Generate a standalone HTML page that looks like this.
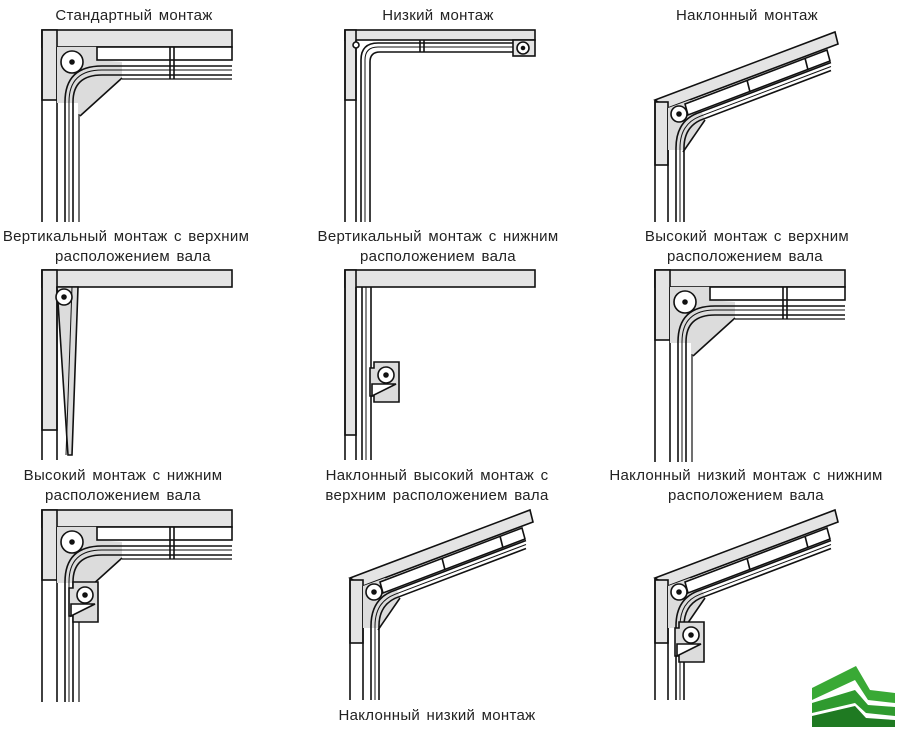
<!DOCTYPE html>
<html><head><meta charset="utf-8"><style>
html,body{margin:0;padding:0;background:#fff;}
svg{display:block;}
text{font-family:"Liberation Sans",sans-serif;font-size:15px;letter-spacing:0.3px;word-spacing:2px;fill:#222;text-anchor:middle;}
</style></head><body>
<svg width="900" height="730" viewBox="0 0 900 730" xmlns="http://www.w3.org/2000/svg">
<defs>
<g id="std" stroke="#111" stroke-width="1.6" fill="none">
  <rect x="0" y="0" width="190" height="17" fill="#e4e4e4"/>
  <rect x="0" y="0" width="15" height="70" fill="#e4e4e4"/>
  <line x1="0" y1="0" x2="0" y2="192"/><line x1="15" y1="17" x2="15" y2="192"/>
  <line x1="0" y1="70" x2="15" y2="70" stroke-width="1"/>
  <polygon points="15,17 55,17 55,30 80,32 80,48 40,84 36,84 36,73 15,73" fill="#dcdcdc" stroke="none"/>
  <line x1="80" y1="48" x2="38" y2="86"/>
  <rect x="55" y="17" width="135" height="13" fill="#fff"/>
  <line x1="128" y1="17" x2="128" y2="49"/><line x1="132" y1="17" x2="132" y2="49"/>
  <path d="M23,192 V72 Q23,36 60,36 H190"/>
  <path d="M27,192 V72 Q27,40 60,40 H190" stroke-width="1"/>
  <path d="M31,192 V72 Q31,45 60,45 H190"/>
  <path d="M37,192 V84 M80,49 H190" stroke-width="1.2"/>
  <circle cx="30" cy="32" r="11" fill="#fff"/><circle cx="30" cy="32" r="2" fill="#111"/>
</g>
<g id="inc" stroke="#111" stroke-width="1.6" fill="none">
  <polygon points="0,0 180,-68 183,-56 13,8" fill="#e4e4e4"/>
  <rect x="0" y="2" width="13" height="63" fill="#e4e4e4"/>
  <line x1="0" y1="0" x2="0" y2="122"/><line x1="13" y1="8" x2="13" y2="122"/>
  <line x1="0" y1="65" x2="13" y2="65" stroke-width="1"/>
  <polygon points="13,8 35,0 48,14 50,20 30,50 22,50 13,50" fill="#dcdcdc" stroke="none"/>
  <line x1="50" y1="20" x2="28" y2="52"/>
  <polygon points="30,4 172,-50 175,-39 33,15" fill="#fff"/>
  <line x1="92" y1="-20" x2="95" y2="-8"/><line x1="150" y1="-42" x2="153" y2="-30"/>
  <path d="M21,122 V48 Q21,20 45,12.3 L176,-37.5"/>
  <path d="M25,122 V48 Q25,24 45,16.3 L176,-33.5" stroke-width="1"/>
  <path d="M29,122 V48 Q29,28 45,20.3 L176,-29.5"/>
  <circle cx="24" cy="14" r="8" fill="#fff"/><circle cx="24" cy="14" r="2" fill="#111"/>
</g>
<g id="box" stroke="#111" stroke-width="1.6">
  <polygon points="0,0 25,0 25,40 0,40 0,34 -4,34 -4,6 0,6" fill="#dcdcdc"/>
  <circle cx="12" cy="13" r="8" fill="#fff"/><circle cx="12" cy="13" r="2" fill="#111"/>
  <polygon points="-2,22 22,22 -2,34" fill="#fff"/>
</g>
</defs>

<use href="#std" x="42" y="30"/>
<g stroke="#111" stroke-width="1.6" fill="none">
  <rect x="345" y="30" width="190" height="10" fill="#e4e4e4"/>
  <rect x="345" y="30" width="11" height="70" fill="#e4e4e4"/>
  <line x1="345" y1="30" x2="345" y2="222"/><line x1="356" y1="40" x2="356" y2="222"/>
  <path d="M361,222 V60 Q361,43 378,43 H532"/>
  <path d="M365,222 V60 Q365,47 378,47 H515" stroke-width="1"/>
  <path d="M370,222 V62 Q370,52 380,52 H515"/>
  <line x1="420" y1="40" x2="420" y2="52"/><line x1="424" y1="40" x2="424" y2="52"/>
  <rect x="513" y="40" width="22" height="16" fill="#e4e4e4"/>
  <circle cx="523" cy="48" r="6" fill="#fff"/><circle cx="523" cy="48" r="1.5" fill="#111"/>
  <circle cx="356" cy="45" r="3" fill="#fff"/>
</g>
<use href="#inc" x="655" y="100"/>

<g stroke="#111" stroke-width="1.6" fill="none">
  <rect x="42" y="270" width="190" height="17" fill="#e4e4e4"/>
  <rect x="42" y="270" width="15" height="160" fill="#e4e4e4"/>
  <line x1="42" y1="270" x2="42" y2="460"/><line x1="57" y1="287" x2="57" y2="460"/>
  <polygon points="57,287 78,287 72,455 68,455" fill="#dcdcdc"/>
  <line x1="72" y1="287" x2="66" y2="455" stroke-width="1"/>
  <circle cx="64" cy="297" r="8" fill="#fff"/><circle cx="64" cy="297" r="2" fill="#111"/>

  <rect x="345" y="270" width="190" height="17" fill="#e4e4e4"/>
  <rect x="345" y="270" width="11" height="165" fill="#e4e4e4"/>
  <line x1="345" y1="270" x2="345" y2="460"/><line x1="356" y1="287" x2="356" y2="460"/>
  <line x1="362" y1="287" x2="362" y2="460"/><line x1="366" y1="287" x2="366" y2="460" stroke-width="1"/><line x1="371" y1="287" x2="371" y2="460"/>
  <line x1="345" y1="435" x2="356" y2="435" stroke-width="1"/>
</g>
<use href="#box" x="374" y="362"/>
<use href="#std" x="655" y="270"/>

<use href="#std" x="42" y="510"/>
<use href="#box" x="73" y="582"/>
<use href="#inc" x="350" y="578"/>
<use href="#inc" x="655" y="578"/>
<use href="#box" x="679" y="622"/>

<g>
  <polygon points="812,688 856,666 870,690 895,693 895,703 868,700 855,680 812,700" fill="#39a935"/>
  <polygon points="812,703 855,690 868,705 895,707 895,716 866,713 855,703 812,713" fill="#2f9a2f"/>
  <polygon points="812,716 855,706 866,718 895,720 895,727 812,727" fill="#1f7a22"/>
</g>

<text x="134" y="20">Стандартный монтаж</text>
<text x="438" y="20">Низкий монтаж</text>
<text x="747" y="20">Наклонный монтаж</text>
<text x="126" y="241">Вертикальный монтаж  с верхним</text>
<text x="133" y="261">расположением  вала</text>
<text x="438" y="241">Вертикальный монтаж  с нижним</text>
<text x="438" y="261">расположением  вала</text>
<text x="747" y="241">Высокий монтаж  с верхним</text>
<text x="745" y="261">расположением  вала</text>
<text x="123" y="480">Высокий монтаж  с нижним</text>
<text x="123" y="500">расположением  вала</text>
<text x="437" y="480">Наклонный высокий монтаж с</text>
<text x="437" y="500">верхним расположением вала</text>
<text x="746" y="480">Наклонный низкий монтаж  с нижним</text>
<text x="746" y="500">расположением  вала</text>
<text x="437" y="720">Наклонный низкий монтаж</text>
</svg>
</body></html>
